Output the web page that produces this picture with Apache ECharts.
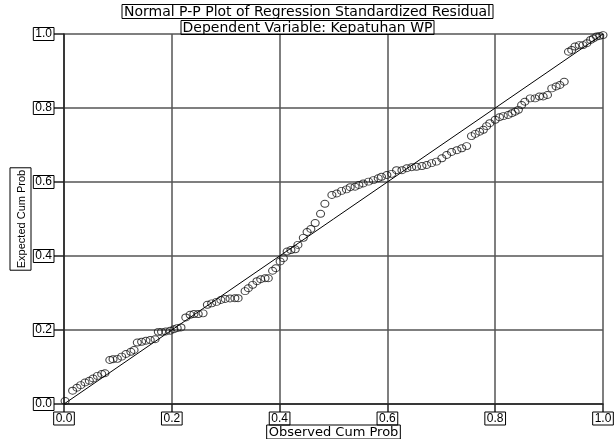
<!DOCTYPE html>
<html>
<head>
<meta charset="utf-8">
<script src="https://cdn.jsdelivr.net/npm/echarts@6/dist/echarts.min.js"></script>
<style>html,body{margin:0;padding:0;background:#fff;}#c{width:615px;height:439px;}</style>
</head>
<body>
<div id="c"></div>
<script>
var titleText = "Normal P-P Plot of Regression Standardized Residual";
var subtitleText = "Dependent Variable: Kepatuhan WP";
var xAxisName = "Observed Cum Prob";
var yAxisName = "Expected Cum Prob";
var tickValues = [0.0, 0.2, 0.4, 0.6, 0.8, 1.0];

var observedCumProb = [
 0.002,0.016,0.024,0.031,0.039,0.047,0.054,0.062,0.070,0.076,
 0.085,0.091,0.099,0.107,0.115,0.124,0.130,0.136,0.144,0.152,
 0.160,0.169,0.175,0.181,0.189,0.197,0.204,0.210,0.217,0.226,
 0.234,0.241,0.249,0.258,0.266,0.274,0.283,0.291,0.299,0.308,
 0.317,0.323,0.336,0.342,0.350,0.358,0.365,0.373,0.379,0.387,
 0.393,0.401,0.407,0.414,0.421,0.429,0.434,0.444,0.451,0.458,
 0.466,0.476,0.484,0.497,0.506,0.515,0.524,0.531,0.540,0.547,
 0.555,0.565,0.574,0.583,0.589,0.599,0.608,0.617,0.627,0.636,
 0.645,0.654,0.664,0.673,0.682,0.691,0.701,0.710,0.719,0.729,
 0.738,0.747,0.756,0.763,0.771,0.778,0.784,0.790,0.800,0.808,
 0.815,0.824,0.831,0.837,0.843,0.849,0.855,0.865,0.874,0.882,
 0.889,0.897,0.905,0.913,0.920,0.928,0.936,0.942,0.948,0.956,
 0.963,0.970,0.977,0.982,0.988,0.994,1.000
];
var expectedCumProb = [
 0.008,0.036,0.044,0.051,0.058,0.063,0.069,0.076,0.081,0.083,
 0.119,0.121,0.122,0.128,0.135,0.141,0.146,0.166,0.168,0.171,
 0.173,0.175,0.195,0.195,0.196,0.198,0.202,0.205,0.207,0.234,
 0.241,0.243,0.243,0.245,0.268,0.272,0.276,0.281,0.284,0.285,
 0.286,0.286,0.305,0.313,0.322,0.332,0.337,0.340,0.340,0.360,
 0.367,0.385,0.394,0.412,0.416,0.418,0.430,0.449,0.465,0.473,
 0.489,0.514,0.541,0.565,0.569,0.576,0.580,0.586,0.587,0.592,
 0.596,0.601,0.605,0.610,0.614,0.619,0.622,0.632,0.632,0.637,
 0.640,0.641,0.643,0.646,0.651,0.655,0.664,0.673,0.681,0.686,
 0.691,0.697,0.724,0.730,0.736,0.741,0.751,0.759,0.768,0.775,
 0.778,0.781,0.786,0.790,0.795,0.808,0.817,0.826,0.826,0.831,
 0.831,0.835,0.853,0.858,0.862,0.871,0.952,0.957,0.966,0.970,
 0.970,0.975,0.984,0.988,0.993,0.995,0.997
];
var referenceLine = [[0, 0], [1, 1]];

var points = observedCumProb.map(function (x, i) { return [x, expectedCumProb[i]]; });
var boxLabel = {
  color: '#000', fontFamily: 'Liberation Sans', fontSize: 12,
  borderColor: '#000', borderWidth: 1, padding: [1, 2, 0, 2],
  formatter: function (v) { return v.toFixed(1); }
};
var chart = echarts.init(document.getElementById('c'), null, { renderer: 'canvas' });
chart.setOption({
  backgroundColor: '#fff',
  animation: false,
  title: [
    { text: titleText, left: 'center', top: 4, padding: [1, 2, 0, 2],
      borderColor: '#000', borderWidth: 1,
      textStyle: { fontFamily: 'DejaVu Sans', fontSize: 14, fontWeight: 'normal', color: '#000' } },
    { text: subtitleText, left: 'center', top: 20, padding: [1, 2, 0, 2],
      borderColor: '#000', borderWidth: 1,
      textStyle: { fontFamily: 'DejaVu Sans', fontSize: 14, fontWeight: 'normal', color: '#000' } }
  ],
  grid: { left: 64, right: 12, top: 34, bottom: 35, outerBoundsMode: 'none', containLabel: false },
  xAxis: {
    type: 'value', min: 0, max: 1, interval: 0.2,
    name: xAxisName, nameLocation: 'middle', nameGap: 21, nameMoveOverlap: false,
    nameTextStyle: { color: '#000', fontFamily: 'DejaVu Sans', fontSize: 13,
      borderColor: '#000', borderWidth: 1, padding: [1, 2, 0, 2] },
    axisLine: { show: true, onZero: false, lineStyle: { color: '#222', width: 1.5 } },
    axisTick: { show: true, length: 8, lineStyle: { color: '#222', width: 1.5 } },
    axisLabel: Object.assign({ margin: 8 }, boxLabel),
    splitLine: { show: true, lineStyle: { color: '#555', width: 1.5 } }
  },
  yAxis: {
    type: 'value', min: 0, max: 1, interval: 0.2,
    name: yAxisName, nameLocation: 'middle', nameGap: 33, nameRotate: 90, nameMoveOverlap: false,
    nameTextStyle: { color: '#000', fontFamily: 'Liberation Sans', fontSize: 11,
      borderColor: '#000', borderWidth: 1, padding: [6, 2, 4, 2] },
    axisLine: { show: true, onZero: false, lineStyle: { color: '#222', width: 1.5 } },
    axisTick: { show: true, length: 10, lineStyle: { color: '#222', width: 1.5 } },
    axisLabel: Object.assign({ margin: 10 }, boxLabel),
    splitLine: { show: true, lineStyle: { color: '#555', width: 1.5 } }
  },
  series: [
    { type: 'line', data: referenceLine, symbol: 'none', silent: true,
      lineStyle: { color: '#000', width: 1 } },
    { type: 'scatter', data: points, symbol: 'circle', symbolSize: [8, 7], clip: false,
      itemStyle: { color: 'rgba(255,255,255,0)', borderColor: '#111', borderWidth: 1 } }
  ]
});
</script>
</body>
</html>
